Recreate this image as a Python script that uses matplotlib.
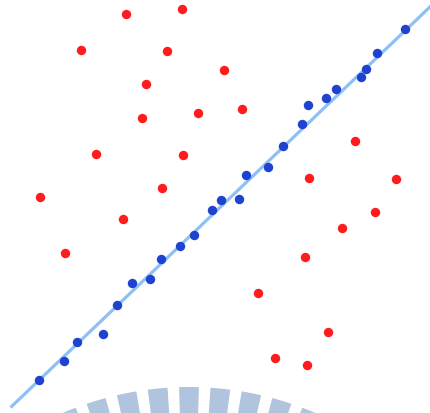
import numpy as np
import matplotlib
matplotlib.use("Agg")
import matplotlib.pyplot as plt

# Red scatter points (x, y in picture units, y downward)
red_x = [126, 182, 81, 167, 146, 224, 142, 198, 242, 96, 183, 355, 309, 396, 40,
         162, 123, 375, 342, 65, 305, 258, 328, 275, 307]
red_y = [15, 10, 51, 52, 85, 71, 119, 114, 110, 155, 156, 142, 179, 180, 198,
         189, 220, 213, 229, 254, 258, 294, 333, 359, 366]

# Blue scatter points
blue_x = [39, 64, 77, 103, 117, 132, 150, 161, 180, 194, 212, 221, 239, 246, 268,
          283, 302, 308, 326, 336, 361, 366, 377, 405]
blue_y = [381, 362, 343, 335, 306, 284, 280, 260, 247, 236, 211, 201, 200, 176, 168,
          147, 125, 106, 99, 90, 78, 70, 54, 30]

# Trend line end points
line_x = [10, 432]
line_y = [408, 5]

# Radial bars (bottom arc)
n_bars = 64
bar_heights = [320] * n_bars

W, H = 430, 414
fig = plt.figure(figsize=(W / 100, H / 100), dpi=100)

# Polar bar axes, centre below the picture
cx, cy = 189, 708  # pixel coords (from top)
R = 340
pax = fig.add_axes([(cx - R) / W, (H - cy - R) / H, 2 * R / W, 2 * R / H],
                   projection="polar", zorder=0)
theta = np.pi / 2 + np.arange(n_bars) * 2 * np.pi / n_bars
pax.bar(theta, bar_heights, width=0.062, bottom=0, color="#b0c4de",
        edgecolor="none")
pax.set_ylim(0, R)
pax.axis("off")

ax = fig.add_axes([0, 0, 1, 1], zorder=1)
ax.patch.set_alpha(0)
ax.set_xlim(-0.5, W - 0.5)
ax.set_ylim(H - 0.5, -0.5)
ax.axis("off")

ax.plot(line_x, line_y, color="#8cc0f6", lw=2.3, solid_capstyle="butt", zorder=1)
ax.scatter(red_x, red_y, s=46, color="#ff1c1c", edgecolors="none", zorder=2)
ax.scatter(blue_x, blue_y, s=46, color="#1f42d0", edgecolors="none", zorder=3)

fig.savefig("out.png", dpi=100)
